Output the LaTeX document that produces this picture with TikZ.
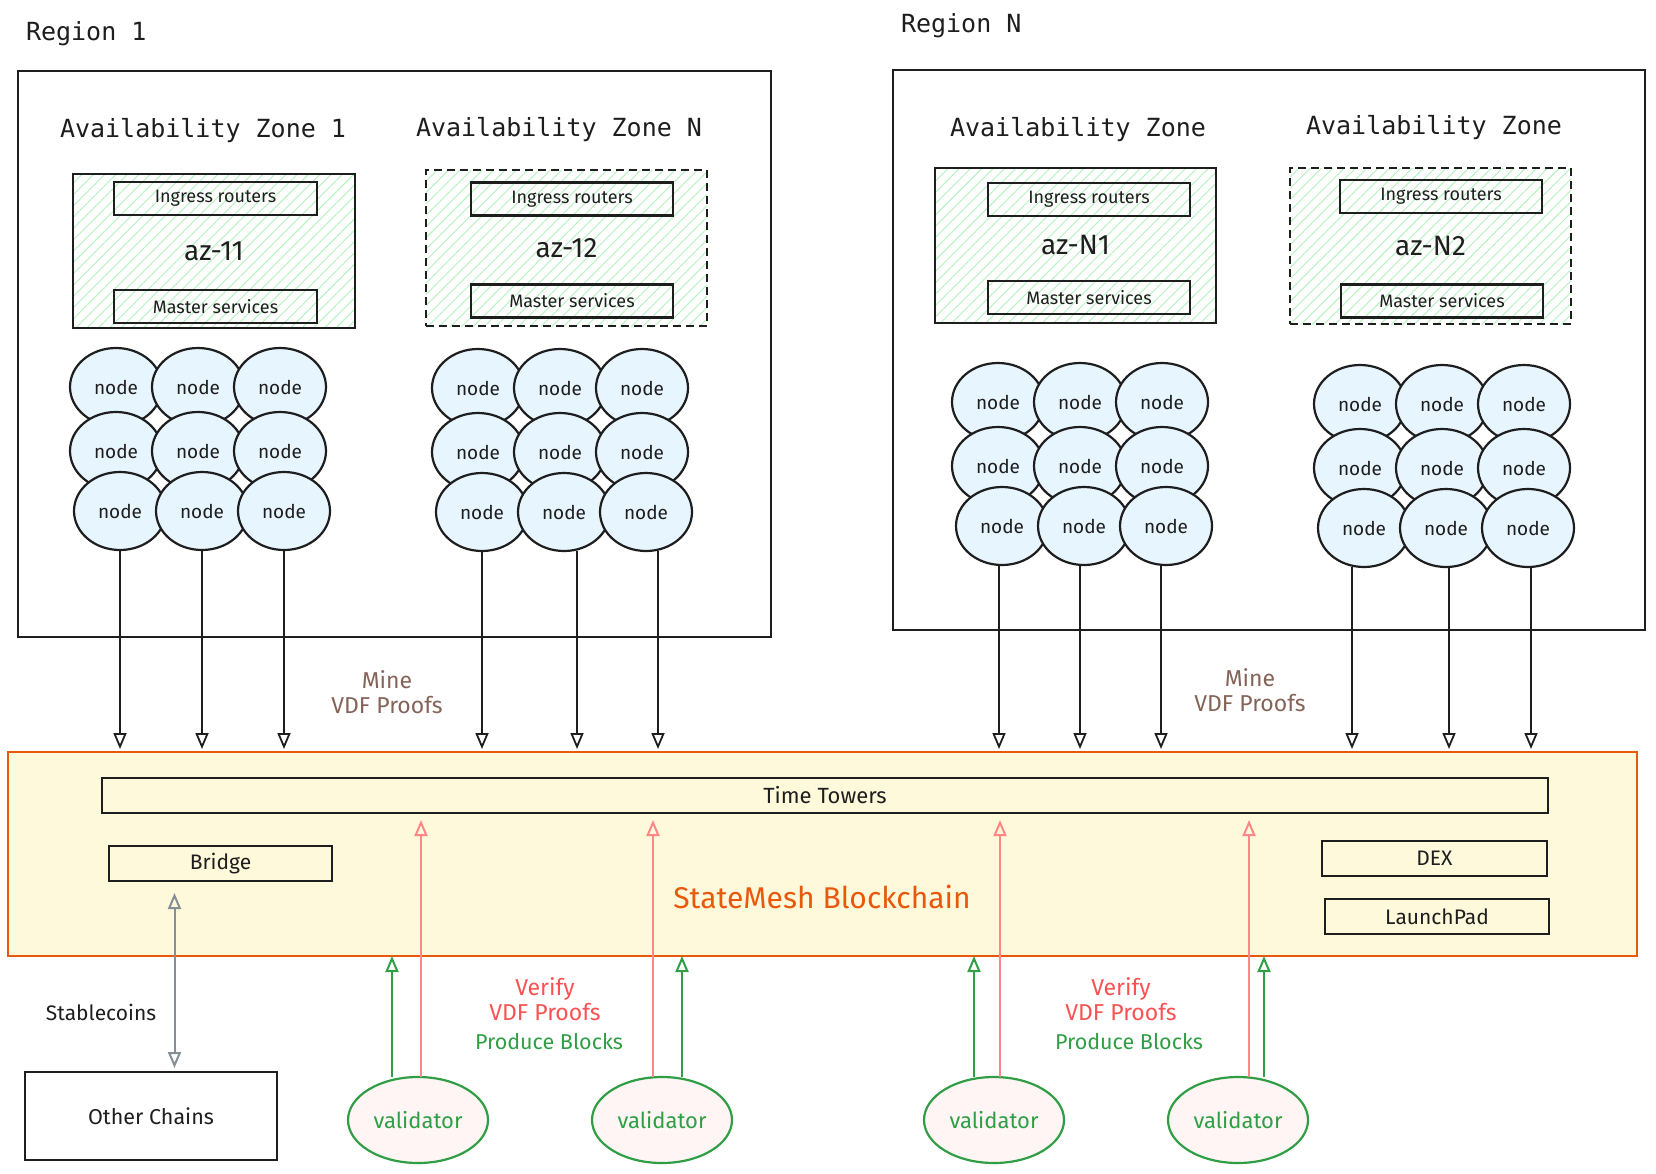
\documentclass[tikz,border=0pt]{standalone}
\usepackage{fontspec}
\setmainfont{Fira Sans}
\newfontfamily\monofont{DejaVu Sans Mono}
\usetikzlibrary{shapes.geometric,arrows.meta,patterns.meta,calc}
\definecolor{ink}{HTML}{1E1E1E}
\definecolor{nodefill}{HTML}{E7F5FF}
\definecolor{hatch}{HTML}{B2F2BB}
\definecolor{chainfill}{HTML}{FFF9DB}
\definecolor{chainorange}{HTML}{E8590C}
\definecolor{minebrown}{HTML}{846358}
\definecolor{verifyred}{HTML}{FA5252}
\definecolor{pinkarrow}{HTML}{FF8787}
\definecolor{valgreen}{HTML}{2F9E44}
\definecolor{valfill}{HTML}{FFF5F5}
\definecolor{grayarrow}{HTML}{868E96}
\begin{document}
\begin{tikzpicture}[x=1pt,y=-1pt,
  every node/.style={inner sep=0pt, outer sep=0pt},
  title/.style={font=\monofont\fontsize{25}{30}\selectfont, text=ink},
  regionbox/.style={draw=ink, line width=1.5pt, rectangle},
  azbox/.style={draw=ink, line width=2pt, rectangle, pattern={Lines[angle=45,distance=8pt,line width=0.9pt]}, pattern color=hatch, minimum width=281pt, minimum height=155pt, font=\fontsize{28}{32}\selectfont, text=ink},
  azdash/.style={azbox, dash pattern=on 8pt off 5pt},
  innerbox/.style={draw=ink, line width=2.2pt, rectangle, minimum width=202pt, minimum height=33pt, font=\fontsize{18}{21}\selectfont, text=ink},
  netnode/.style={ellipse, draw=ink, fill=nodefill, line width=2.2pt, minimum width=92pt, minimum height=78pt, font=\fontsize{19}{22}\selectfont, text=ink},
  chainbox/.style={draw=chainorange, fill=chainfill, line width=2.5pt, rectangle},
  chainpart/.style={draw=ink, line width=2pt, rectangle, minimum height=35pt, font=\fontsize{21}{24}\selectfont, text=ink},
  mine/.style={font=\fontsize{23}{25}\selectfont, text=minebrown, align=center},
  verify/.style={font=\fontsize{23}{25}\selectfont, text=verifyred, align=center},
  produce/.style={font=\fontsize{21.5}{25}\selectfont, text=valgreen},
  validator/.style={ellipse, draw=valgreen, fill=valfill, line width=2.2pt, minimum width=140pt, minimum height=86pt, font=\fontsize{22}{24}\selectfont, text=valgreen},
  downarr/.style={draw=ink, line width=1.8pt, -{Triangle[open, length=16pt, width=13pt, line width=1.8pt]}},
  greenarr/.style={draw=valgreen, line width=2pt, -{Triangle[open, length=16pt, width=13pt, line width=2pt]}},
  pinkarr/.style={draw=pinkarrow, line width=2pt, -{Triangle[open, length=16pt, width=13pt, line width=2pt]}},
  grayarr/.style={draw=grayarrow, line width=2pt, {Triangle[open, length=16pt, width=13pt, line width=2pt]}-{Triangle[open, length=16pt, width=13pt, line width=2pt]}},
  plainlabel/.style={font=\fontsize{21}{24}\selectfont, text=ink}
]
\useasboundingbox (0,0) rectangle (1656,1173);

% Regions
\node[regionbox, minimum width=753pt, minimum height=566pt] (region1) at (394.5,354) {};
\node[regionbox, minimum width=752pt, minimum height=560pt] (regionN) at (1269,350) {};
\node[title, anchor=west] (r1label) at (26,34) {Region 1};
\node[title, anchor=west] (rNlabel) at (901,26) {Region N};

% AZ titles
\node[title] (t11) at (203,131) {Availability Zone 1};
\node[title] (t12) at (559,130) {Availability Zone N};
\node[title] (tN1) at (1078,130) {Availability Zone};
\node[title] (tN2) at (1434,128) {Availability Zone};

% AZ boxes
\node[azbox, minimum height=154pt, minimum width=282pt] (az11) at (214,251) {az-11};
\node[azdash, minimum height=156pt] (az12) at (566.5,248) {az-12};
\node[azbox] (azN1) at (1075.5,245.5) {az-N1};
\node[azdash, minimum height=156pt] (azN2) at (1430.5,246) {az-N2};

% inner boxes
\node[innerbox, minimum width=203pt] (ing11) at (215.5,198.5) {Ingress routers};
\node[innerbox, minimum width=203pt] (mas11) at (215.5,306.5) {Master services};
\node[innerbox] (ing12) at (572,199) {Ingress routers};
\node[innerbox] (mas12) at (572,301) {Master services};
\node[innerbox] (ingN1) at (1089,199.5) {Ingress routers};
\node[innerbox] (masN1) at (1089,297.5) {Master services};
\node[innerbox] (ingN2) at (1441,196.5) {Ingress routers};
\node[innerbox] (masN2) at (1442,301) {Master services};

% node clusters
\foreach \g/\xo/\yo in {a/116/387, b/478/388, c/998/402, d/1360/404}{
  \foreach \c in {1,2,3}{
    \node[netnode] (\g1\c) at ({\xo+(\c-1)*82},\yo) {node};
  }
  \foreach \c in {1,2,3}{
    \node[netnode] (\g2\c) at ({\xo+(\c-1)*82},{\yo+64}) {node};
  }
  \foreach \c in {1,2,3}{
    \node[netnode] (\g3\c) at ({\xo+4+(\c-1)*82},{\yo+124}) {node};
  }
}

% Blockchain
\node[chainbox, minimum width=1629pt, minimum height=204pt] (chain) at (822.5,854) {};
\node[chainpart, minimum width=1446pt, font=\fontsize{22}{24}\selectfont] (tt) at (825,795.5) {Time Towers};
\node[chainpart, minimum width=223pt] (bridge) at (220.5,863.5) {Bridge};
\node[chainpart, minimum width=225pt] (dex) at (1434.5,858.5) {DEX};
\node[chainpart, minimum width=224pt] (launch) at (1437,916.5) {LaunchPad};
\node[font=\fontsize{30}{34}\selectfont, text=chainorange] (smlabel) at (822,897) {StateMesh Blockchain};

% Mine arrows
\foreach \n/\dx in {a31/0, a32/0, a33/0, b31/0, b32/13, b33/12, c31/-3, c32/-4, c33/-5, d31/-12, d32/3, d33/3}{
  \draw[downarr, shorten >=3pt] ([xshift=\dx pt]\n.south) -- ([xshift=\dx pt]\n.south |- chain.north);
}
\node[mine] (mine1) at (387,692) {Mine\\VDF Proofs};
\node[mine] (mine2) at (1250,690) {Mine\\VDF Proofs};

% Other chains
\node[draw=ink, line width=2pt, rectangle, minimum width=252pt, minimum height=88pt, font=\fontsize{21.5}{24}\selectfont, text=ink] (other) at (151,1116) {Other Chains};
\node[plainlabel] (stable) at (101,1012) {Stablecoins};
\draw[grayarr, shorten <=12pt, shorten >=4pt] ([xshift=-46pt]bridge.south) -- ([xshift=-46pt]bridge.south |- other.north);

% Validators
\node[validator] (v1) at (418,1120) {validator};
\node[validator] (v2) at (662,1120) {validator};
\node[validator] (v3) at (994,1120) {validator};
\node[validator] (v4) at (1238,1120) {validator};

\foreach \v/\dx in {v1/-26, v2/20, v3/-20, v4/26}{
  \draw[greenarr] ([xshift=\dx pt]\v.north) -- ([xshift=\dx pt]\v.north |- chain.south);
}
\foreach \v/\dx in {v1/3, v2/-9, v3/6, v4/11}{
  \draw[pinkarr, shorten >=7pt] ([xshift=\dx pt]\v.north) -- ([xshift=\dx pt]\v.north |- tt.south);
}

\node[verify] (ver1) at (545,999) {Verify\\VDF Proofs};
\node[produce] (prod1) at (549,1042) {Produce Blocks};
\node[verify] (ver2) at (1121,999) {Verify\\VDF Proofs};
\node[produce] (prod2) at (1129,1042) {Produce Blocks};
\end{tikzpicture}
\end{document}
